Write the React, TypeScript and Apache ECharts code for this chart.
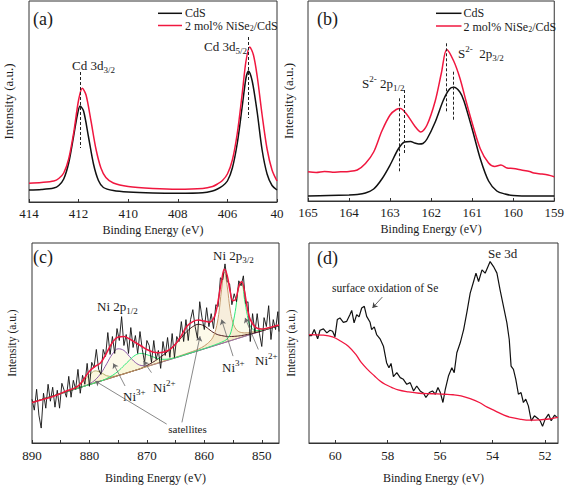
import React, { useEffect, useRef } from 'react';
import * as echarts from 'echarts';

const FONT = "'Liberation Serif', 'Times New Roman', 'DejaVu Serif', serif";
const TXT = '#1a1a1a';
const AXIS = '#333333';
const RED = '#f0173f';
const BLACK = '#111111';

// ---------- (a) Cd 3d ----------
const cdsCd: [number, number][] = [
  [414, 13], [413.5, 13.5], [413, 15], [412.8, 17.5], [412.6, 24], [412.4, 40], [412.2, 67], [412.05, 88],
  [411.94, 97], [411.8, 92], [411.6, 66], [411.4, 39], [411.2, 22.5], [411, 15.5], [410.6, 12.5], [410, 11],
  [409, 10], [408, 9.7], [407, 10.2], [406.6, 12], [406.4, 14], [406.2, 17], [406, 22], [405.8, 35],
  [405.6, 60], [405.4, 97], [405.25, 125], [405.15, 132], [405, 122], [404.8, 91], [404.6, 53], [404.4, 29],
  [404.2, 17.5], [404, 13],
];
const niseCd: [number, number][] = [
  [414, 19.7], [413.5, 20.5], [413, 22], [412.8, 24.5], [412.6, 30], [412.4, 44], [412.2, 70], [412, 103],
  [411.85, 114.7], [411.7, 108], [411.5, 82], [411.3, 54], [411.1, 35], [410.9, 25.5], [410.6, 20], [410, 16.5],
  [409, 14.5], [408, 13.7], [407, 14.5], [406.6, 16.5], [406.4, 19], [406.2, 22.5], [406, 29], [405.8, 43],
  [405.6, 70], [405.4, 110], [405.25, 142], [405.1, 156], [404.95, 148], [404.8, 127], [404.6, 88], [404.4, 54],
  [404.2, 33], [404, 22],
];
const aTickLabels: Record<number, string> = { 404: '40', 406: '406', 408: '408', 410: '410', 412: '412', 414: '414' };

// ---------- (b) S 2p ----------
const cdsS: [number, number][] = [
  [165, 5], [164.5, 5.5], [164, 6], [163.8, 6.5], [163.6, 8], [163.4, 12], [163.2, 22], [163, 36],
  [162.8, 52], [162.65, 59], [162.5, 59.5], [162.4, 58], [162.3, 57], [162.2, 57.5], [162.1, 62], [161.9, 79],
  [161.7, 101], [161.55, 112], [161.45, 113.7], [161.3, 109], [161.2, 100], [161, 72], [160.8, 42], [160.6, 20],
  [160.4, 10], [160.2, 7], [160, 5.5], [159.5, 5], [159, 5],
];
const niseS: [number, number][] = [
  [165, 29.3], [164.8, 28.5], [164.6, 29.5], [164.4, 28.8], [164.2, 29.2], [164, 29.5], [163.8, 31], [163.6, 37.5],
  [163.4, 49], [163.2, 70], [163, 86], [162.85, 91.5], [162.75, 92.5], [162.6, 87], [162.4, 75], [162.25, 69],
  [162.1, 76], [161.9, 100], [161.75, 128], [161.62, 151.5], [161.45, 140], [161.3, 123], [161.15, 100], [161, 78],
  [160.8, 52], [160.6, 38], [160.45, 34.5], [160.3, 36], [160.15, 33], [160, 32.5], [159.8, 31], [159.6, 29.5],
  [159.5, 28], [159.3, 27], [159.15, 26], [159, 24.3],
];

// ---------- (c) Ni 2p ----------
const niE = [890, 888, 886, 884, 882, 880, 879, 878, 877, 876, 875, 874, 873, 872, 871, 870, 869, 868, 867, 866,
  865, 864, 863, 862, 861, 860, 859, 858.5, 858, 857.5, 857, 856.5, 856, 855.5, 855, 854.5, 854, 853.5, 853, 852.5,
  852, 851, 850, 849, 848, 847];
const niBackground = [40.7, 44.3, 47.9, 51.5, 55.1, 58.7, 60.5, 62.3, 64.1, 65.9, 67.7, 69.5, 71.3, 73.1, 74.9, 76.7,
  78.5, 80.3, 82.1, 83.9, 85.6, 87.4, 89.2, 91.0, 92.8, 94.6, 96.4, 97.3, 98.2, 99.1, 100.0, 100.9, 101.8, 102.7,
  103.6, 104.5, 105.4, 106.3, 107.2, 108.1, 109.0, 110.8, 112.6, 114.4, 116.2, 118.0];
const niEnvelope = [40.7, 44, 47.5, 52.3, 57, 72, 77, 81, 90.7, 101, 106.5, 107, 104.5, 101, 97.5, 94, 91.5, 90.7,
  91.5, 94, 99.5, 108, 117.5, 122, 123.5, 122.5, 121.5, 124, 131, 146, 163, 174.5, 168, 152, 143, 145, 157, 162,
  152, 135, 124, 116, 114.5, 115.5, 117, 118.5];
const niSat12 = [0, 0, 0, 0.5, 2.5, 9.5, 12, 8.5, 3.5, 1, 0.3, 0, 0, 0, 0, 0, 0, 0, 0, 0, 0, 0, 0, 0, 0, 0, 0, 0,
  0, 0, 0, 0, 0, 0, 0, 0, 0, 0, 0, 0, 0, 0, 0, 0, 0, 0];
const niNi3p12 = [0, 0, 0, 0, 0, 0.8, 3, 7.8, 15.5, 23.5, 27, 23.5, 15.5, 7.8, 3, 0.8, 0.2, 0, 0, 0, 0, 0, 0, 0,
  0, 0, 0, 0, 0, 0, 0, 0, 0, 0, 0, 0, 0, 0, 0, 0, 0, 0, 0, 0, 0, 0];
const niNi2 = [0, 0, 0, 0, 0, 0, 0, 0, 0.7, 2, 4.5, 8.2, 12.1, 15.2, 15.2, 12.1, 8.2, 4.5, 2, 0.7, 0.3, 0.2, 0.2,
  0.2, 0.3, 0.3, 0.5, 0.6, 0.8, 1.0, 1.3, 1.8, 3.0, 6.5, 17, 32, 52, 54, 37, 20, 8.5, 2.0, 1.0, 0.7, 0.5, 0.4];
const niSat32 = [0, 0, 0, 0, 0, 0, 0, 0, 0, 0, 0, 0, 0, 0, 0, 1.2, 2.5, 4.5, 7, 10, 14, 18.5, 23, 26, 26.5, 23, 17,
  14, 11.5, 9.5, 8, 6.5, 5.3, 4.3, 3.5, 2.8, 2.2, 1.7, 1.3, 1.0, 0.7, 0.3, 0.1, 0, 0, 0];
const niNi3p32 = [0, 0, 0, 0, 0, 0, 0, 0, 0, 0, 0, 0, 0, 0, 0.2, 0.2, 0.3, 0.3, 0.4, 0.5, 0.6, 0.7, 0.9, 1.1, 1.6,
  3.0, 6.0, 9.0, 16, 30, 54, 71, 55, 31, 17, 10, 6.5, 4.7, 3.5, 2.7, 2.2, 1.5, 1.1, 0.8, 0.6, 0.5];
const niRaw: [number, number][] = [
  [890, 44], [889.6, 33], [889.2, 54], [888.8, 28], [888.4, 15], [888, 50], [887.6, 35], [887.2, 59], [886.8, 42],
  [886.4, 56], [886, 36], [885.6, 53], [885.2, 35], [884.8, 60], [884.4, 53], [884, 46], [883.6, 67], [883.2, 46],
  [882.8, 63], [882.4, 54], [882, 74], [881.6, 50], [881.2, 68], [880.8, 59], [880.4, 80], [880, 57], [879.6, 81],
  [879.2, 76], [878.8, 94], [878.4, 74], [878, 69], [877.6, 94], [877.2, 87], [876.8, 111], [876.4, 89], [876, 107],
  [875.6, 90], [875.2, 115], [874.8, 103], [874.4, 127], [874, 98], [873.6, 109], [873.2, 90], [872.8, 116],
  [872.4, 96], [872, 108], [871.6, 90], [871.2, 112], [870.8, 94], [870.4, 81], [870, 103], [869.6, 98], [869.2, 81],
  [868.8, 103], [868.4, 84], [868, 93], [867.6, 75], [867.2, 102], [866.8, 88], [866.4, 106], [866, 86], [865.6, 110],
  [865.2, 86], [864.8, 107], [864.4, 102], [864, 122], [863.6, 102], [863.2, 124], [862.8, 103], [862.4, 124],
  [862, 134], [861.6, 117], [861.2, 105], [860.8, 142], [860.4, 126], [860, 114], [859.6, 136], [859.2, 117],
  [858.8, 130], [858.4, 115], [858, 139], [857.6, 137], [857.2, 166], [856.8, 164], [856.4, 180], [856, 162],
  [855.6, 160], [855.2, 139], [854.8, 150], [854.4, 142], [854, 163], [853.6, 158], [853.2, 168], [852.8, 140],
  [852.4, 142], [852, 102], [851.6, 130], [851.2, 111], [850.8, 130], [850.4, 110], [850, 97], [849.6, 126],
  [849.2, 117], [848.8, 138], [848.4, 104], [848, 124], [847.6, 114], [847.2, 132], [847, 112],
];
const niLabelValues = [850, 860, 870, 880, 890];
const niTickValues = [850, 855, 860, 865, 870, 875, 880, 885, 890];

// ---------- (d) Se 3d ----------
const seRaw: [number, number][] = [
  [61, 108], [60.9, 108], [60.8, 114], [60.67, 104.7], [60.58, 113.3], [60.45, 114.7], [60.32, 110.7], [60.2, 113.3],
  [60.1, 112.3], [60.01, 106.7], [59.92, 124], [59.82, 125.7], [59.69, 121.3], [59.56, 122.3], [59.44, 129],
  [59.37, 133.3], [59.28, 120.7], [59.18, 129], [59.09, 126.7], [58.99, 135.7], [58.89, 137.3], [58.8, 127.3],
  [58.67, 121.3], [58.61, 114], [58.51, 116.7], [58.42, 109], [58.29, 104.7], [58.16, 97.3], [58.04, 80.7],
  [57.95, 75.7], [57.87, 80], [57.78, 66.7], [57.65, 70.7], [57.52, 65.7], [57.4, 64], [57.27, 59], [57.14, 60.7],
  [57.01, 52.3], [56.89, 57.3], [56.76, 52.3], [56.63, 50], [56.54, 45.7], [56.41, 50.7], [56.29, 52.3],
  [56.18, 49], [56.08, 55.7], [55.99, 50.7], [55.89, 40.7], [55.8, 54], [55.68, 67.3], [55.55, 75.7], [55.46, 70.7],
  [55.36, 90.7], [55.23, 100.7], [55.1, 114], [54.97, 132.3], [54.85, 150.7], [54.72, 162.3], [54.63, 170.7],
  [54.53, 162.3], [54.4, 174], [54.28, 170.7], [54.17, 177.3], [54.09, 182.3], [53.96, 177.3], [53.83, 170.7],
  [53.71, 154], [53.58, 137.3], [53.45, 120.7], [53.36, 104], [53.29, 77.3], [53.2, 74], [53.11, 64], [53.01, 49],
  [52.91, 50.7], [52.82, 40.7], [52.73, 44], [52.63, 37.3], [52.52, 22.3], [52.4, 27.3], [52.27, 24.7],
  [52.18, 22.3], [52.09, 16.7], [51.99, 24], [51.86, 29], [51.76, 22.3], [51.63, 28], [51.54, 25.7],
];
const seBackground: [number, number][] = [
  [61, 109], [60.5, 108.5], [60.1, 106.7], [59.8, 102.5], [59.5, 97.3], [59.2, 88.5], [59, 80.7], [58.75, 73.5],
  [58.5, 67.3], [58.3, 62.5], [58.1, 59], [57.85, 56], [57.6, 53.3], [57.2, 51.3], [56.8, 50], [56.3, 49.5],
  [55.8, 49], [55.5, 48.5], [55.2, 47.3], [54.85, 44.5], [54.5, 40.7], [54.2, 36], [53.9, 32.3], [53.6, 28.5],
  [53.3, 25.7], [52.9, 23.8], [52.6, 23], [52.2, 23.2], [51.8, 24.3], [51.5, 25.7],
];
const seLabelValues = [52, 54, 56, 58, 60];

// ---------- helpers ----------
const pairs = (xs: number[], ys: number[]) => xs.map((x, i) => [x, ys[i]]);
// value first, energy second: lets the stack run on the intensity dimension
const flipped = (xs: number[], ys: number[]) => xs.map((x, i) => [ys[i], x]);
const seg = (x1: number, y1: number, x2: number, y2: number) => [{ coord: [x1, y1] }, { coord: [x2, y2] }];

function txt(x: number, y: number, text: string, size = 13, align = 'left', lh?: number) {
  const s = Math.round(size * 0.7);
  const hasRich = text.indexOf('{') >= 0;
  return {
    type: 'text', x, y, silent: true, z: 100,
    style: {
      text, fontSize: size, fontFamily: FONT, fill: TXT, align, verticalAlign: 'middle',
      lineHeight: lh ?? (hasRich ? Math.round(size * 1.4) : size),
      rich: {
        s: { fontSize: s, fontFamily: FONT, fill: TXT, verticalAlign: 'bottom', lineHeight: s },
        u: { fontSize: s, fontFamily: FONT, fill: TXT, verticalAlign: 'top', lineHeight: s },
      },
    },
  };
}
function hline(x1: number, x2: number, y: number, color: string) {
  return { type: 'line', silent: true, z: 100, shape: { x1, y1: y, x2, y2: y }, style: { stroke: color, lineWidth: 1.5 } };
}

function xAxis(gi: number, min: number, max: number, nameGap: number, margin: number, extra: any = {}) {
  return {
    type: 'value', gridIndex: gi, inverse: true, min, max,
    axisLine: { show: true, onZero: false, lineStyle: { color: AXIS, width: 1 } },
    axisTick: { show: true, inside: true, length: 3, lineStyle: { color: AXIS }, ...(extra.axisTick || {}) },
    axisLabel: { color: TXT, fontSize: 13, fontFamily: FONT, margin, ...(extra.axisLabel || {}) },
    splitLine: { show: false },
    name: 'Binding Energy (eV)', nameLocation: 'middle', nameGap,
    nameTextStyle: { color: TXT, fontSize: 12, fontFamily: FONT },
    ...(extra.interval ? { interval: extra.interval } : {}),
  };
}
function yAxis(gi: number, min: number, max: number, nameGap: number, size: number) {
  return {
    type: 'value', gridIndex: gi, min, max,
    axisLine: { show: false }, axisTick: { show: false }, axisLabel: { show: false }, splitLine: { show: false },
    name: 'Intensity (a.u.)', nameLocation: 'middle', nameGap,
    nameTextStyle: { color: TXT, fontSize: size, fontFamily: FONT },
  };
}
function line(ai: number, data: any[], color: string, width: number, extra: any = {}) {
  return {
    type: 'line', xAxisIndex: ai, yAxisIndex: ai, data, symbol: 'none', showSymbol: false, silent: true,
    lineStyle: { color, width }, itemStyle: { color }, ...extra,
  };
}
const dashed = (data: any[]) => ({
  silent: true, symbol: ['none', 'none'], label: { show: false },
  lineStyle: { type: [3, 2], color: '#222', width: 1 }, data,
});
const arrows = (data: any[], color = '#6b6b6b') => ({
  silent: true, symbol: ['none', 'arrow'], symbolSize: 5, label: { show: false },
  lineStyle: { type: 'solid', color, width: 0.8 }, data,
});

function component(stackId: string, amps: number[], color: string, fill: string) {
  return [
    line(2, flipped(niE, niBackground), 'rgba(0,0,0,0)', 0, {
      stack: stackId, encode: { x: 1, y: 0 }, lineStyle: { opacity: 0, width: 0 },
    }),
    line(2, flipped(niE, amps), color, 1, {
      stack: stackId, encode: { x: 1, y: 0 }, smooth: 0.4, areaStyle: { color: fill },
    }),
  ];
}

function buildOption() {
  return {
    animation: false,
    textStyle: { fontFamily: FONT },
    grid: [
      { left: 29, top: 1, width: 248, height: 201, show: true, borderColor: AXIS, borderWidth: 1 },
      { left: 308, top: 1, width: 249, height: 200, show: true, borderColor: AXIS, borderWidth: 1 },
      { left: 32, top: 243, width: 247, height: 201, show: true, borderColor: AXIS, borderWidth: 1 },
      { left: 309, top: 243, width: 249, height: 201, show: true, borderColor: AXIS, borderWidth: 1 },
    ],
    xAxis: [
      xAxis(0, 404, 414, 22, 5, { interval: 2, axisLabel: { formatter: (v: number) => aTickLabels[v] ?? String(v) } }),
      xAxis(1, 159, 165, 22, 5, { interval: 1 }),
      xAxis(2, 847, 890, 29, 6, { axisLabel: { customValues: niLabelValues }, axisTick: { customValues: niTickValues } }),
      xAxis(3, 51.5, 61, 29, 6, { axisLabel: { customValues: seLabelValues }, axisTick: { customValues: seLabelValues } }),
    ],
    yAxis: [
      yAxis(0, 1, 202, 14, 13),
      yAxis(1, 0, 200, 13, 13),
      yAxis(2, 0, 201, 14, 11.5),
      yAxis(3, 0, 201, 12, 11.5),
    ],
    series: [
      line(0, cdsCd, BLACK, 1.5, { smooth: 0.3, markLine: dashed([seg(411.94, 131, 411.94, 55), seg(405.15, 166, 405.15, 85)]) }),
      line(0, niseCd, RED, 1.5, { smooth: 0.3 }),
      line(1, cdsS, BLACK, 1.5, { smooth: 0.3 }),
      line(1, niseS, RED, 1.5, {
        smooth: 0.3,
        markLine: dashed([seg(162.78, 102.7, 162.78, 29.3), seg(162.66, 111, 162.66, 47.7), seg(161.62, 157.7, 161.62, 87.7), seg(161.47, 129.3, 161.47, 81)]),
      }),
      ...component('sat12', niSat12, '#b5b06a', 'rgba(240,232,150,0.45)'),
      ...component('ni3a', niNi3p12, '#8e5aa8', 'rgba(245,235,170,0.35)'),
      ...component('sat32', niSat32, '#4d1a1e', 'rgba(248,238,185,0.45)'),
      ...component('ni3b', niNi3p32, '#c49a6c', 'rgba(232,205,155,0.5)'),
      ...component('ni2', niNi2, '#2ee87a', 'rgba(240,240,170,0.35)'),
      line(2, niRaw, BLACK, 0.9, {
        markLine: arrows([
          seg(873.8, 57.3, 875.85, 80), seg(869.2, 70.7, 870.6, 82.3), seg(855.0, 87.3, 857.0, 124),
          seg(850.6, 94, 852.9, 125.7), seg(866.55, 19, 879.0, 62.3), seg(863.9, 20.7, 860.75, 107.3),
        ]),
      }),
      line(2, pairs(niE, niEnvelope), RED, 1.5, { smooth: 0.4 }),
      line(3, seRaw, BLACK, 1.2, { markLine: arrows([seg(58.2, 146.7, 58.58, 135.7)], '#444') }),
      line(3, seBackground, RED, 1.3, { smooth: 0.4 }),
    ],
    graphic: [
      // (a)
      txt(33, 18.5, '(a)', 18),
      hline(158, 182, 13.3, BLACK), txt(185, 13.3, 'CdS', 12, 'left', 11),
      hline(158, 182, 25.5, RED), txt(185, 26, '2 mol% NiSe{s|2}/CdS', 12, 'left', 13),
      txt(72, 65, 'Cd 3d{s|3/2}', 13),
      txt(204, 46, 'Cd 3d{s|5/2}', 13),
      // (b)
      txt(317, 18.5, '(b)', 18),
      hline(436, 461.5, 13.3, BLACK), txt(463.5, 13.3, 'CdS', 12, 'left', 11),
      hline(436, 461.5, 26, RED), txt(463.5, 26.5, '2 mol% NiSe{s|2}/CdS', 12, 'left', 13),
      txt(362, 83, 'S{u|2-} 2p{s|1/2}', 13),
      txt(458, 53, 'S{u|2-}  2p{s|3/2}', 13),
      // (c)
      txt(33, 257, '(c)', 18),
      txt(97, 306, 'Ni 2p{s|1/2}', 13),
      txt(213, 255, 'Ni 2p{s|3/2}', 13),
      txt(123, 396, 'Ni{u|3+}', 13),
      txt(153, 387, 'Ni{u|2+}', 13),
      txt(222, 367, 'Ni{u|3+}', 13),
      txt(255, 360, 'Ni{u|2+}', 13),
      txt(187.5, 429, 'satellites', 11, 'center'),
      // (d)
      txt(317, 258, '(d)', 18),
      txt(488, 253, 'Se 3d', 13),
      txt(332, 288, 'surface oxidation of Se', 11.5),
    ],
  };
}

export default function App() {
  const ref = useRef<HTMLDivElement>(null);
  useEffect(() => {
    const chart = echarts.init(ref.current as HTMLDivElement, undefined, { renderer: 'svg' });
    chart.setOption(buildOption() as any);
    return () => chart.dispose();
  }, []);
  return <div ref={ref} style={{ position: 'absolute', left: 0, top: 0, width: 567, height: 485 }} />;
}
